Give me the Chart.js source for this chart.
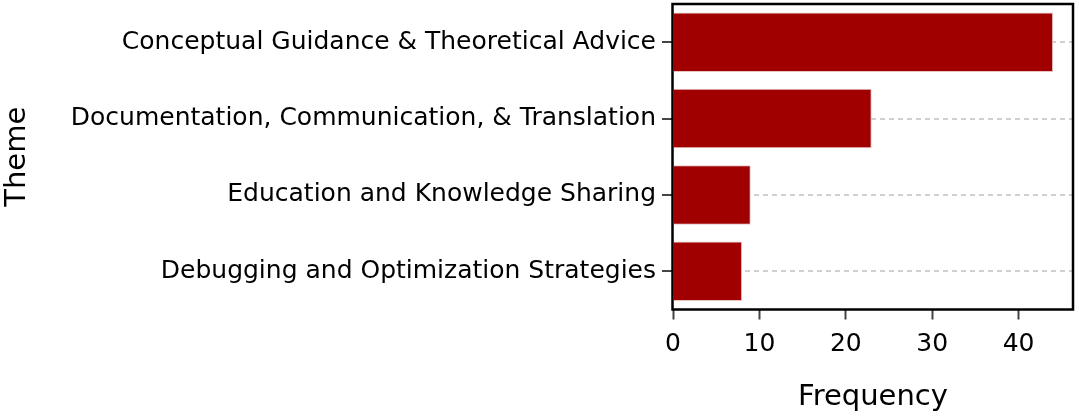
<!DOCTYPE html>
<html>
<head>
<meta charset="utf-8">
<script src="https://cdn.jsdelivr.net/npm/chart.js@4/dist/chart.umd.min.js"></script>
<style>
  html, body { margin: 0; padding: 0; background: #fff; }
  canvas { display: block; }
</style>
</head>
<body>
<canvas id="chart" width="1079" height="417"></canvas>
<script>
const themes = [
  "Conceptual Guidance & Theoretical Advice",
  "Documentation, Communication, & Translation",
  "Education and Knowledge Sharing",
  "Debugging and Optimization Strategies"
];
const frequency = [44, 23, 9, 8];
const xTicks = [0, 10, 20, 30, 40];

const FONT = "'DejaVu Sans', Verdana, sans-serif";

// black frame round the plot area
const frame = {
  id: "frame",
  afterDraw(chart) {
    const { ctx, chartArea: a } = chart;
    ctx.save();
    ctx.strokeStyle = "#000";
    ctx.lineWidth = 2.5;
    ctx.strokeRect(a.left - 0.5, a.top, a.right - a.left + 0.5, a.bottom - a.top);
    ctx.restore();
  }
};

new Chart(document.getElementById("chart"), {
  type: "bar",
  data: {
    labels: themes,
    datasets: [{
      data: frequency,
      backgroundColor: "#a00000",
      borderColor: "#e6c4c4",
      borderWidth: 1,
      barPercentage: 0.78,
      categoryPercentage: 1
    }]
  },
  options: {
    indexAxis: "y",
    responsive: false,
    animation: false,
    layout: { padding: { top: 4, right: 6, left: 0, bottom: 0 } },
    plugins: { legend: { display: false }, tooltip: { enabled: false } },
    scales: {
      x: {
        min: 0,
        max: 46.3,
        afterFit(scale) { scale.height = 107.5; },
        afterBuildTicks(scale) { scale.ticks = xTicks.map(v => ({ value: v })); },
        ticks: {
          font: { family: FONT, size: 25 },
          color: "#000",
          padding: 10,
          maxRotation: 0
        },
        grid: {
          drawOnChartArea: false,
          drawTicks: true,
          tickLength: 10,
          tickWidth: 2,
          tickColor: "#444"
        },
        border: { display: false },
        title: {
          display: true,
          text: "Frequency",
          font: { family: FONT, size: 29 },
          color: "#000",
          padding: { top: 0, bottom: 2 }
        }
      },
      y: {
        afterFit(scale) {
          scale.width = 673;
          scale.paddingTop = 0;
          scale.paddingBottom = 0;
        },
        ticks: {
          font: { family: FONT, size: 25 },
          color: "#000",
          padding: 6
        },
        grid: {
          offset: false,
          color: "#d0d0d0",
          lineWidth: 2,
          tickLength: 11,
          tickWidth: 2,
          tickColor: "#444",
          tickBorderDash: []
        },
        border: { display: false, dash: [5, 4] },
        title: {
          display: true,
          text: "Theme",
          font: { family: FONT, size: 29 },
          color: "#000",
          padding: { top: 0, bottom: 0 }
        }
      }
    }
  },
  plugins: [frame]
});
</script>
</body>
</html>
